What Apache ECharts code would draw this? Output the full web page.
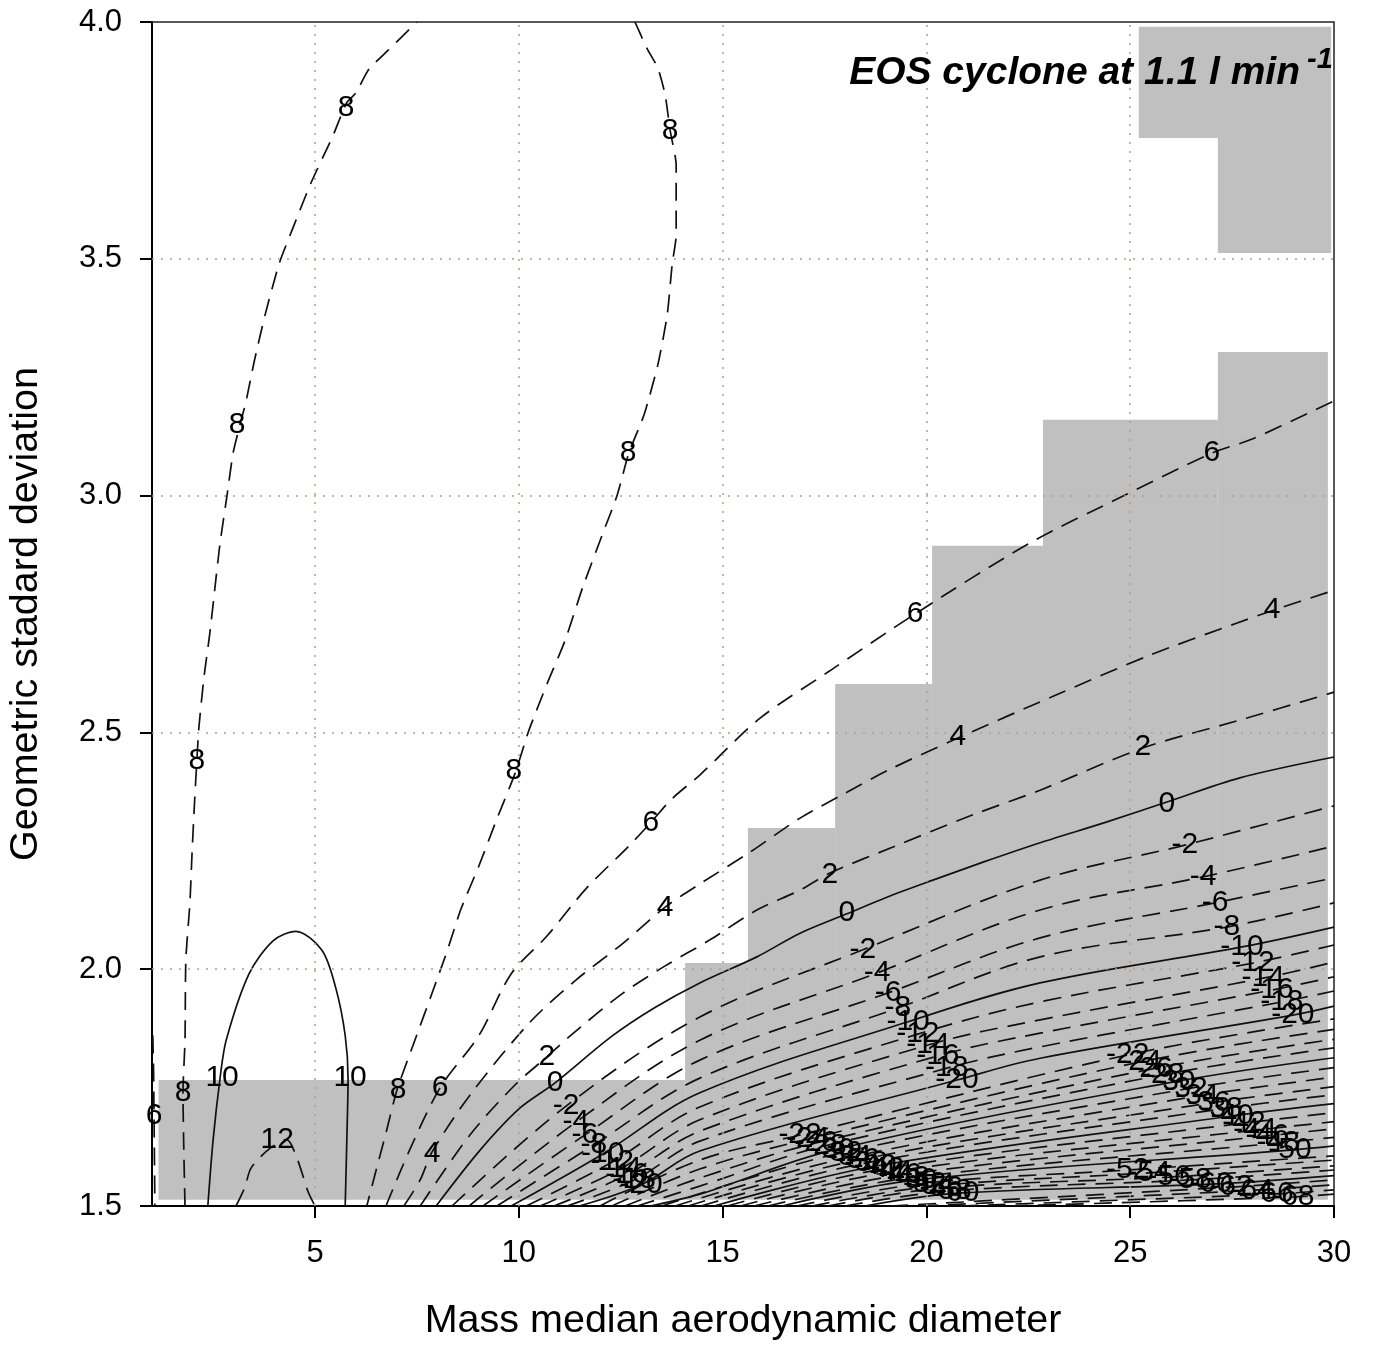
<!DOCTYPE html>
<html>
<head>
<meta charset="utf-8">
<script src="https://cdn.jsdelivr.net/npm/echarts@6/dist/echarts.min.js"></script>
<style>
html, body { margin: 0; padding: 0; background: #fff; }
#main { width: 1373px; height: 1347px; }
</style>
</head>
<body>
<div id="main"></div>
<script>
var dom = document.getElementById('main');
var myChart = echarts.init(dom, null, { renderer: 'canvas' });
var FONT = 'Liberation Sans, Arial, sans-serif';

// axis ticks / grid
var xTicks = [5, 10, 15, 20, 25, 30];
var gridX = [5, 10, 15, 20, 25];
var gridY = [2.0, 2.5, 3.0, 3.5];

// grey cells: [x0, x1, yBottom, yTop]
var greyCells = [
    [25.21, 29.93, 3.755, 3.99],
    [27.15, 29.93, 3.512, 3.755],
    [1.16, 14.08, 1.513, 1.766],
    [14.08, 15.62, 1.513, 2.013],
    [15.62, 17.76, 1.513, 2.298],
    [17.76, 20.14, 1.513, 2.602],
    [20.14, 22.86, 1.513, 2.894],
    [22.86, 27.15, 1.513, 3.160],
    [27.15, 29.85, 1.513, 3.303]
];

// contour lines, [x, y]
var c6Left = [[1.02,1.86],[1.04,1.78],[1.05,1.69],[1.06,1.6],[1.07,1.5]];
var c8Left = [[1.81,1.5],[1.78,1.62],[1.76,1.74],[1.81,1.85],[1.83,2.02],[1.93,2.14],[1.98,2.24],[2.03,2.33],[2.10,2.44],[2.15,2.51],[2.28,2.62],[2.42,2.71],[2.55,2.81],[2.67,2.90],[2.84,3.0],[2.99,3.09],[3.16,3.15],[3.31,3.2],[3.50,3.28],[3.77,3.38],[4.12,3.49],[4.48,3.57],[4.90,3.66],[5.44,3.76],[5.78,3.83],[6.0,3.85],[6.32,3.90],[6.79,3.94],[7.50,4.0]];
var c8Right = [[12.85,4.0],[13.14,3.945],[13.41,3.903],[13.59,3.846],[13.71,3.772],[13.86,3.698],[13.86,3.62],[13.86,3.55],[13.76,3.487],[13.64,3.381],[13.41,3.276],[13.07,3.17],[12.70,3.09],[12.41,3.0],[12.09,2.927],[11.57,2.807],[11.13,2.693],[10.69,2.602],[10.25,2.505],[9.91,2.414],[9.46,2.317],[9.02,2.218],[8.58,2.127],[8.24,2.038],[7.89,1.954],[7.45,1.85],[7.01,1.745],[6.74,1.654],[6.5,1.576],[6.27,1.5]];
var c10 = [[2.37,1.5],[2.5,1.64],[2.67,1.77],[2.82,1.85],[3.38,1.99],[3.97,2.06],[4.53,2.08],[5.17,2.04],[5.51,1.96],[5.74,1.86],[5.81,1.77],[5.78,1.64],[5.74,1.5]];
var c12 = [[3.06,1.5],[3.28,1.54],[3.43,1.58],[3.87,1.62],[4.3,1.64],[4.56,1.6],[4.83,1.53],[5.0,1.5]];
var c6 = [[6.74,1.5],[7.33,1.62],[8.07,1.75],[9.02,1.86],[9.81,1.99],[10.69,2.07],[11.65,2.17],[12.7,2.26],[13.24,2.31],[13.76,2.36],[14.44,2.41],[15.92,2.53],[17.63,2.63],[19.72,2.75],[22.54,2.9],[24.85,3.0],[27.01,3.09],[28.01,3.12],[30,3.2]];
var c4 = [[7.18,1.5],[7.58,1.555],[7.87,1.614],[8.8,1.734],[10.25,1.886],[11.4,1.977],[12.53,2.053],[13.59,2.131],[14.44,2.18],[15.67,2.247],[16.9,2.319],[17.93,2.368],[19.08,2.421],[20.77,2.488],[23.18,2.579],[25.48,2.663],[27.59,2.73],[28.48,2.757],[30,2.8]];
var c2 = [[7.58,1.5],[8.8,1.65],[9.91,1.756],[10.69,1.815],[11.23,1.857],[12.53,1.948],[13.59,2.007],[14.69,2.062],[15.84,2.125],[16.9,2.167],[17.63,2.203],[19.18,2.258],[21.14,2.326],[22.79,2.378],[25.31,2.467],[27.69,2.526],[30,2.585]];
var c0 = [[7.97,1.5],[9.05,1.618],[10.03,1.707],[10.89,1.76],[12.26,1.857],[13.32,1.918],[14.44,1.971],[15.84,2.026],[16.9,2.076],[18.05,2.117],[19.03,2.152],[20.16,2.188],[21.39,2.226],[22.79,2.267],[24.43,2.311],[25.9,2.353],[27.69,2.404],[30,2.448]];

// fan A: levels -2 .. -20
var fanALevels = [-2, -4, -6, -8, -10, -12, -14, -16, -18, -20];
var fanAStart = [8.36, 8.78, 9.12, 9.46, 9.81, 10.18, 10.52, 10.86, 11.18, 11.48];
var fanAG1 = [[11.16,1.711],[11.40,1.677],[11.62,1.650],[11.84,1.629],[12.06,1.610],[12.29,1.593],[12.48,1.578],[12.65,1.566],[12.83,1.555],[13.00,1.545]];
var fanAM1 = [1.899, 1.850, 1.808, 1.770, 1.739, 1.709, 1.682, 1.658, 1.637, 1.616];
var fanAG2 = [[18.44,2.041],[18.79,1.992],[19.06,1.950],[19.30,1.918],[19.55,1.889],[19.79,1.863],[20.04,1.840],[20.28,1.817],[20.50,1.791],[20.75,1.766]];
var fanAM2 = [2.188, 2.125, 2.066, 2.026, 1.971, 1.931, 1.893, 1.865, 1.836, 1.812];
var fanAG3 = [[26.34,2.262],[26.79,2.195],[27.08,2.140],[27.37,2.089],[27.74,2.047],[28.01,2.013],[28.26,1.981],[28.48,1.956],[28.72,1.931],[28.99,1.903]];
var fanAEnd = [2.345, 2.260, 2.193, 2.140, 2.089, 2.051, 2.015, 1.984, 1.954, 1.922];

// fan B: levels -22 .. -68
var fanBLevels = [-22, -24, -26, -28, -30, -32, -34, -36, -38, -40, -42, -44, -46, -48, -50, -52, -54, -56, -58, -60, -62, -64, -66, -68];
var fanBStart = [11.99, 12.29, 12.6, 12.9, 13.22, 13.51, 13.83, 14.15, 14.47, 14.79, 15.11, 15.43, 15.77, 16.11, 16.46, 16.82, 17.19, 17.58, 18.0, 18.49, 19.11, 19.84, 20.82, 22.05];
var fanBM1 = [1.597, 1.578, 1.559, 1.542, 1.525, null, null, null, null, null, null, null, null, null, null, null, null, null, null, null, null, null, null, null];
var fanBG2 = [[16.9,1.65],[17.09,1.641],[17.29,1.633],[17.51,1.627],[17.71,1.618],[17.9,1.612],[18.12,1.603],[18.32,1.597],[18.52,1.591],[18.74,1.584],[18.93,1.578],[19.13,1.572],[19.35,1.565],[19.55,1.559],[19.74,1.555],[19.96,1.548],[20.16,1.542],[20.36,1.538],[20.58,1.532],[20.77,1.527],null,null,null,null];
var fanBG3 = [[24.94,1.819],[25.24,1.804],[25.51,1.789],[25.8,1.777],[26.07,1.762],[26.37,1.747],[26.64,1.732],[26.93,1.717],[27.23,1.705],[27.5,1.69],[27.79,1.675],[28.06,1.66],[28.36,1.648],[28.63,1.633],[28.92,1.618],[24.94,1.576],[25.46,1.57],[25.95,1.561],[26.47,1.555],[26.98,1.546],[27.47,1.54],[27.99,1.533],[28.48,1.525],[28.99,1.519]];
var fanBEnd = [1.895, 1.873, 1.852, 1.834, 1.813, 1.792, 1.772, 1.752, 1.735, 1.716, 1.697, 1.678, 1.663, 1.645, 1.627, 1.606, 1.597, 1.585, 1.576, 1.564, 1.555, 1.545, 1.534, 1.525];

// hand-placed labels on the outer contours
var outerLabels = [
    [1.05,1.69,'6'],
    [1.76,1.74,'8'],[2.10,2.44,'8'],[3.09,3.15,'8'],[5.76,3.82,'8'],
    [13.71,3.77,'8'],[12.68,3.09,'8'],[9.88,2.42,'8'],[7.04,1.745,'8'],
    [2.72,1.77,'10'],[5.86,1.77,'10'],[4.07,1.64,'12'],
    [8.07,1.75,'6'],[13.24,2.31,'6'],[19.72,2.75,'6'],[27.0,3.09,'6'],
    [7.87,1.61,'4'],[13.59,2.13,'4'],[20.77,2.49,'4'],[28.48,2.76,'4'],
    [10.69,1.815,'2'],[17.63,2.2,'2'],[25.31,2.47,'2'],
    [10.89,1.76,'0'],[18.05,2.12,'0'],[25.9,2.35,'0']
];

function lineSeries(pts, solid, smooth) {
    return {
        type: 'line',
        data: pts,
        showSymbol: false,
        symbol: 'none',
        smooth: smooth,
        silent: true,
        z: 3,
        lineStyle: { color: '#111', width: 1.7, type: solid ? 'solid' : [18, 10] }
    };
}

var series = [];
series.push({
    type: 'custom',
    silent: true,
    z: 1,
    data: greyCells,
    encode: { x: [0, 1], y: [2, 3] },
    renderItem: function (params, api) {
        var p0 = api.coord([api.value(0), api.value(3)]);
        var p1 = api.coord([api.value(1), api.value(2)]);
        return {
            type: 'rect',
            shape: { x: p0[0], y: p0[1], width: p1[0] - p0[0], height: p1[1] - p0[1] },
            style: { fill: '#c0c0c0' }
        };
    }
});
series.push({
    type: 'line',
    data: [],
    silent: true,
    z: 2,
    markLine: {
        silent: true,
        symbol: ['none', 'none'],
        label: { show: false },
        animation: false,
        lineStyle: { color: '#b29c8c', width: 1.5, type: [2, 7] },
        data: gridX.map(function (v) { return { xAxis: v }; })
            .concat(gridY.map(function (v) { return { yAxis: v }; }))
    }
});

series.push(lineSeries(c6Left, false, false));
series.push(lineSeries(c8Left, false, 0.2));
series.push(lineSeries(c8Right, false, 0.2));
series.push(lineSeries(c10, true, 0.3));
series.push(lineSeries(c12, false, 0.3));
series.push(lineSeries(c6, false, 0.3));
series.push(lineSeries(c4, false, 0.3));
series.push(lineSeries(c2, false, 0.3));
series.push(lineSeries(c0, true, 0.3));

var labelData = outerLabels.slice();

fanALevels.forEach(function (lev, i) {
    var pts = [
        [fanAStart[i], 1.5],
        fanAG1[i],
        [14.44, fanAM1[i]],
        fanAG2[i],
        [22.79, fanAM2[i]],
        fanAG3[i],
        [30, fanAEnd[i]]
    ];
    series.push(lineSeries(pts, lev % 10 === 0, 0.35));
    labelData.push([fanAG1[i][0], fanAG1[i][1], String(lev)]);
    labelData.push([fanAG2[i][0], fanAG2[i][1], String(lev)]);
    labelData.push([fanAG3[i][0], fanAG3[i][1], String(lev)]);
});

fanBLevels.forEach(function (lev, i) {
    var pts = [[fanBStart[i], 1.5]];
    if (fanBM1[i] !== null) pts.push([14.44, fanBM1[i]]);
    if (fanBG2[i]) pts.push(fanBG2[i]);
    pts.push(fanBG3[i]);
    pts.push([30, fanBEnd[i]]);
    series.push(lineSeries(pts, lev % 10 === 0, 0.35));
    if (fanBG2[i]) labelData.push([fanBG2[i][0], fanBG2[i][1], String(lev)]);
    labelData.push([fanBG3[i][0], fanBG3[i][1], String(lev)]);
});

series.push({
    type: 'scatter',
    data: labelData,
    symbol: 'circle',
    symbolSize: 1,
    silent: true,
    z: 5,
    itemStyle: { color: 'rgba(0,0,0,0)' },
    label: {
        show: true,
        position: 'inside',
        formatter: function (p) { return p.data[2]; },
        color: '#000',
        opacity: 1,
        textBorderWidth: 0,
        textBorderColor: 'transparent',
        fontFamily: FONT,
        fontSize: 30
    }
});

var option = {
    animation: false,
    backgroundColor: '#fff',
    title: [
        {
            text: 'EOS cyclone at 1.1 l min',
            right: 68,
            top: 49,
            textStyle: { fontFamily: FONT, fontSize: 39, fontWeight: 'bold', fontStyle: 'italic', color: '#000' }
        },
        {
            text: '-1',
            left: 1302,
            top: 40,
            textStyle: { fontFamily: FONT, fontSize: 29, fontWeight: 'bold', fontStyle: 'italic', color: '#000' }
        }
    ],
    grid: {
        left: 152, right: 39, top: 22, bottom: 141,
        outerBoundsMode: 'none',
        containLabel: false,
        show: true, borderColor: '#222', borderWidth: 1.5, backgroundColor: 'transparent'
    },
    xAxis: {
        type: 'value',
        min: 1,
        max: 30,
        name: 'Mass median aerodynamic diameter',
        nameLocation: 'middle',
        nameGap: 95,
        nameTextStyle: { fontFamily: FONT, fontSize: 39.5, color: '#000' },
        axisLine: { lineStyle: { color: '#000', width: 2 } },
        axisTick: { show: true, length: 12, customValues: xTicks, lineStyle: { color: '#000', width: 2 } },
        axisLabel: { customValues: xTicks, margin: 32, fontFamily: FONT, fontSize: 31, color: '#000' },
        splitLine: { show: false }
    },
    yAxis: {
        type: 'value',
        min: 1.5,
        max: 4.0,
        interval: 0.5,
        name: 'Geometric stadard deviation',
        nameLocation: 'middle',
        nameGap: 106,
        nameTextStyle: { fontFamily: FONT, fontSize: 39.5, color: '#000' },
        axisLine: { lineStyle: { color: '#000', width: 2 } },
        axisTick: { show: true, length: 12, lineStyle: { color: '#000', width: 2 } },
        axisLabel: {
            margin: 30, fontFamily: FONT, fontSize: 31, color: '#000',
            formatter: function (v) { return v.toFixed(1); }
        },
        splitLine: { show: false }
    },
    series: series
};

myChart.setOption(option);
window.addEventListener('resize', myChart.resize);
</script>
</body>
</html>
